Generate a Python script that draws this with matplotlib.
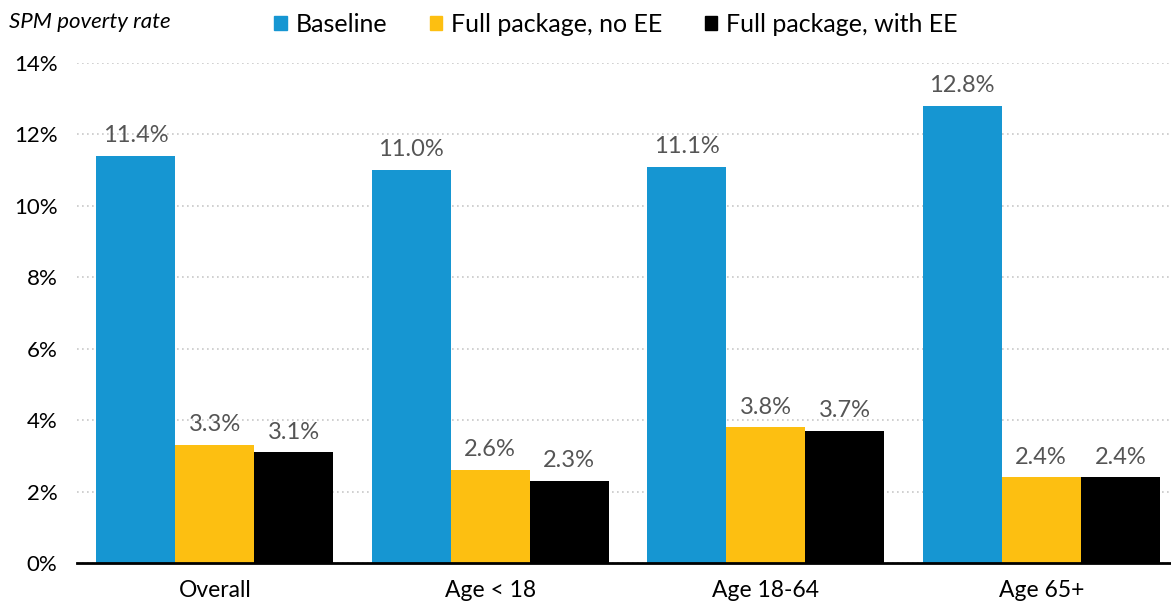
import numpy as np
import matplotlib.pyplot as plt
from matplotlib.patches import Patch

plt.rcParams['font.family'] = ['Lato', 'DejaVu Sans']

categories = ["Overall", "Age < 18", "Age 18-64", "Age 65+"]
series = ["Baseline", "Full package, no EE", "Full package, with EE"]
baseline = [11.4, 11.0, 11.1, 12.8]
no_ee = [3.3, 2.6, 3.8, 2.4]
with_ee = [3.1, 2.3, 3.7, 2.4]
colors = ["#1696d2", "#fdbf11", "#000000"]

fig = plt.figure(figsize=(11.71, 6.05), dpi=100)
ax = fig.add_axes([0.0658, 0.0694, 0.941, 0.8265])

x = np.arange(len(categories))
w = 0.287
for i, (vals, c, name) in enumerate(zip([baseline, no_ee, with_ee], colors, series)):
    bars = ax.bar(x + (i - 1) * w, vals, w, color=c, label=name, zorder=3)
    for b, v in zip(bars, vals):
        ax.annotate(f"{v:.1f}%", (b.get_x() + b.get_width() / 2, v),
                    xytext=(0, 7), textcoords="offset points",
                    ha="center", va="bottom", fontsize=17, color="#555555")

ax.set_xlim(-0.5, 3.5)
ax.set_ylim(0, 14)
ax.set_yticks(range(0, 15, 2))
ax.set_yticklabels([f"{t}%" for t in range(0, 15, 2)])
ax.set_xticks(x)
ax.set_xticklabels(categories)
ax.tick_params(axis="y", length=0, pad=14, labelsize=16)
ax.tick_params(axis="x", length=0, pad=12, labelsize=16.5)
ax.grid(axis="y", color="#c8c8c8", linestyle=(0, (1, 2)), linewidth=1.2, zorder=0)
for s in ["left", "right", "top"]:
    ax.spines[s].set_visible(False)
ax.spines["bottom"].set_linewidth(2)
ax.spines["bottom"].set_zorder(4)

handles = [Patch(color=c) for c in colors]
fig.legend(handles, series, loc="center", bbox_to_anchor=(0.526, 0.96), ncol=3,
           frameon=False, fontsize=18, handlelength=0.5, handleheight=0.5,
           handletextpad=0.35, columnspacing=1.7)
fig.text(0.008, 0.963, "SPM poverty rate", fontsize=16, style="italic",
         ha="left", va="center")

fig.savefig("out.png", dpi=100)
